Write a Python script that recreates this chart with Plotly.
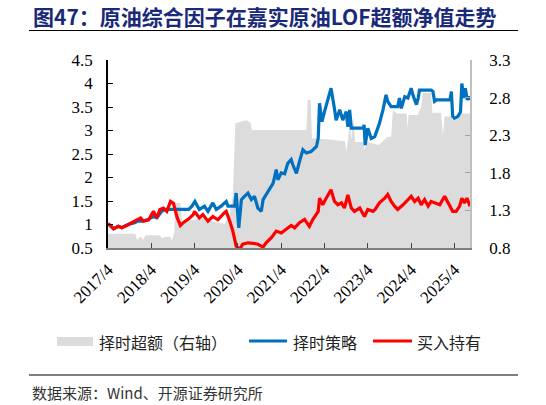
import plotly.graph_objects as go

# ---------------- data ----------------
hold_dates = [
    "2017-04-01", "2017-05-18", "2017-06-28", "2017-07-26", "2017-09-20", "2017-11-17",
    "2018-01-01", "2018-01-26", "2018-03-10", "2018-04-19", "2018-05-18", "2018-06-13",
    "2018-07-12", "2018-08-10", "2018-09-10", "2018-10-05", "2018-11-05", "2018-12-02",
    "2019-01-01", "2019-02-11", "2019-03-21", "2019-04-01", "2019-05-11", "2019-06-10",
    "2019-07-23", "2019-09-02", "2019-10-15", "2019-12-09", "2019-12-24", "2020-01-23",
    "2020-02-18", "2020-03-17", "2020-04-15", "2020-05-11", "2020-06-24", "2020-08-07",
    "2020-09-16", "2020-10-30", "2020-11-24", "2021-01-08", "2021-02-18", "2021-04-01",
    "2021-04-30", "2021-05-26", "2021-06-24", "2021-07-23", "2021-09-02", "2021-10-15",
    "2021-11-24", "2021-12-24", "2022-02-07", "2022-02-18", "2022-03-17", "2022-04-15",
    "2022-05-26", "2022-06-24", "2022-07-23", "2022-08-22", "2022-09-16", "2022-10-15",
    "2022-11-13", "2022-12-09", "2023-01-23", "2023-03-04", "2023-04-01", "2023-05-15",
    "2023-06-02", "2023-07-08", "2023-08-22", "2023-09-16", "2023-10-15", "2023-11-13",
    "2023-12-09", "2024-01-23", "2024-03-04", "2024-04-01", "2024-04-30", "2024-05-30",
    "2024-06-24", "2024-07-23", "2024-08-22", "2024-09-16", "2024-10-15", "2024-11-28",
    "2025-01-08", "2025-02-07", "2025-03-17", "2025-04-15", "2025-05-15", "2025-06-02",
    "2025-06-24", "2025-07-15", "2025-08-10",
]
hold_values = [
    1.02, 0.91, 0.96, 0.93, 1.00, 1.07,
    1.14, 1.07, 1.10, 1.28, 1.14, 1.32,
    1.35, 1.28, 1.49, 1.45, 1.15, 0.98,
    1.05, 1.12, 1.21, 1.28, 1.14, 1.21,
    1.07, 1.17, 1.10, 1.25, 1.28, 1.07,
    0.86, 0.54, 0.47, 0.58, 0.61, 0.60,
    0.58, 0.52, 0.61, 0.72, 0.86, 0.82,
    0.88, 0.93, 0.98, 0.93, 1.04, 1.11,
    0.96, 1.11, 1.28, 1.56, 1.42, 1.56,
    1.74, 1.49, 1.42, 1.46, 1.35, 1.63,
    1.35, 1.28, 1.35, 1.17, 1.32, 1.28,
    1.32, 1.46, 1.56, 1.64, 1.49, 1.39,
    1.32, 1.42, 1.53, 1.60, 1.49, 1.56,
    1.42, 1.53, 1.39, 1.49, 1.46, 1.42,
    1.60, 1.46, 1.28, 1.28, 1.39, 1.56,
    1.46, 1.56, 1.39,
]

strat_dates = [
    "2017-04-01", "2017-05-18", "2017-06-28", "2017-07-26", "2017-09-20", "2017-11-17",
    "2017-12-02", "2018-01-11", "2018-02-25", "2018-04-19", "2018-05-18", "2018-06-28",
    "2018-07-26", "2019-02-11", "2019-03-10", "2019-04-04", "2019-05-11", "2019-06-24",
    "2019-07-23", "2019-09-02", "2019-10-01", "2019-11-10", "2019-12-24", "2020-01-08",
    "2020-03-04", "2020-03-17", "2020-04-08", "2020-04-30", "2020-05-26", "2020-06-24",
    "2020-07-23", "2020-08-18", "2020-09-16", "2020-10-15", "2020-10-30", "2020-11-24",
    "2020-12-24", "2021-01-23", "2021-02-18", "2021-03-04", "2021-04-01", "2021-04-30",
    "2021-05-26", "2021-06-24", "2021-07-08", "2021-08-07", "2021-09-02", "2021-10-01",
    "2021-10-30", "2021-12-09", "2022-01-23", "2022-02-07", "2022-02-18", "2022-03-10",
    "2022-04-01", "2022-04-30", "2022-05-26", "2022-06-21", "2022-07-08", "2022-08-07",
    "2022-09-02", "2022-10-01", "2022-10-15", "2022-10-30", "2022-11-13", "2023-02-22",
    "2023-03-01", "2023-03-10", "2023-04-01", "2023-04-30", "2023-05-30", "2023-06-24",
    "2023-07-08", "2023-08-07", "2023-09-02", "2023-09-16", "2023-10-15", "2023-12-09",
    "2023-12-24", "2024-01-08", "2024-02-07", "2024-03-04", "2024-04-01", "2024-04-15",
    "2024-05-15", "2024-05-30", "2024-06-10", "2024-09-16", "2024-10-01", "2024-10-15",
    "2024-10-30", "2025-02-22", "2025-03-06", "2025-03-17", "2025-04-01", "2025-04-30",
    "2025-05-22", "2025-06-02", "2025-06-21", "2025-07-01", "2025-07-19", "2025-07-30",
    "2025-08-10",
]
strat_values = [
    1.02, 0.91, 0.96, 0.93, 1.00, 1.04,
    1.07, 1.07, 1.10, 1.17, 1.14, 1.28,
    1.32, 1.32, 1.39, 1.49, 1.32, 1.39,
    1.28, 1.46, 1.32, 1.39, 1.49, 1.39,
    1.39, 1.67, 0.93, 1.53, 1.60, 1.67,
    1.53, 1.60, 1.35, 1.28, 1.53, 1.63,
    1.74, 1.88, 2.17, 1.95, 2.10, 2.08,
    2.30, 2.38, 2.27, 2.09, 2.34, 2.59,
    2.52, 2.55, 2.66, 2.84, 3.58, 3.19,
    3.40, 3.68, 3.90, 3.51, 3.22, 3.44,
    3.22, 3.40, 3.08, 3.44, 3.05, 3.05,
    3.12, 2.69, 3.05, 2.83, 2.87, 3.05,
    3.15, 3.44, 3.76, 3.62, 3.51, 3.51,
    3.69, 3.47, 3.72, 3.69, 3.90, 3.76,
    3.55, 3.69, 3.86, 3.86, 3.83, 3.62,
    3.65, 3.65, 3.83, 3.30, 3.26, 3.30,
    3.40, 4.00, 3.69, 3.90, 3.65, 3.72,
    3.65,
]

excess_dates = [
    "2017-04-01", "2017-11-17", "2017-12-02", "2018-01-01", "2018-01-26", "2018-02-11",
    "2018-06-13", "2018-06-28", "2018-07-30", "2018-09-10", "2018-09-20", "2018-10-12",
    "2018-10-19", "2018-12-02", "2018-12-16", "2019-06-24", "2019-09-10", "2019-12-09",
    "2020-01-23", "2020-02-18", "2020-03-10", "2020-06-13", "2020-07-19", "2020-07-26",
    "2021-10-30", "2021-11-10", "2021-12-05", "2021-12-16", "2022-06-01", "2022-09-20",
    "2022-10-01", "2022-10-15", "2022-10-30", "2022-11-13", "2022-11-28", "2022-12-16",
    "2023-02-25", "2023-03-04", "2023-03-21", "2023-07-01", "2023-09-16", "2023-10-15",
    "2023-10-30", "2023-12-01", "2024-02-22", "2024-03-01", "2024-03-10", "2024-05-26",
    "2024-06-24", "2024-07-08", "2024-09-16", "2024-09-27", "2024-12-09", "2024-12-24",
    "2025-01-08", "2025-03-04", "2025-03-17", "2025-04-15", "2025-04-22", "2025-08-10",
]
excess_values = [
    0.99, 0.99, 0.91, 0.95, 0.91, 0.97,
    0.97, 0.93, 0.95, 0.95, 0.90, 1.00,
    1.40, 1.40, 1.15, 1.20, 1.15, 1.12,
    1.25, 1.50, 2.46, 2.50, 2.46, 2.37,
    2.37, 2.77, 2.77, 2.26, 2.24, 2.22,
    2.08, 2.22, 2.45, 2.25, 2.55, 2.21,
    2.21, 2.10, 2.21, 2.17, 2.28, 2.28,
    2.64, 2.59, 2.59, 2.40, 2.57, 2.57,
    2.68, 2.86, 2.86, 2.60, 2.60, 2.30,
    2.55, 2.55, 2.50, 2.50, 2.59, 2.59,
]

tick_dates = ["2017-04-01", "2018-04-01", "2019-04-01", "2020-04-01", "2021-04-01",
              "2022-04-01", "2023-04-01", "2024-04-01", "2025-04-01"]
tick_labels = ["2017/4", "2018/4", "2019/4", "2020/4", "2021/4",
               "2022/4", "2023/4", "2024/4", "2025/4"]

title_text = "图47：原油综合因子在嘉实原油LOF超额净值走势"
source_text = "数据来源：Wind、开源证券研究所"
names = ["择时超额（右轴）", "择时策略", "买入持有"]

# ---------------- figure ----------------
W, H = 546, 405
L, R, T, B = 108, 76, 60, 157
PW, PH = W - L - R, H - T - B


def px_x(px):
    return (px - L) / PW


def px_y(py):
    return (H - B - py) / PH


SERIF = "Liberation Serif, Times New Roman, serif"
CJK = "Noto Sans CJK SC, sans-serif"
GRAY = "#DCDCDC"
BLUE = "#0070C0"
RED = "#FF0000"

fig = go.Figure()
# grey area on the (base) right-hand axis so the lines on the overlaying axis sit above it
fig.add_trace(go.Scatter(x=excess_dates, y=excess_values, name=names[0], yaxis="y",
                         mode="lines", line=dict(width=0, color=GRAY),
                         fill="tozeroy", fillcolor=GRAY, showlegend=False))
fig.add_trace(go.Scatter(x=strat_dates, y=strat_values, name=names[1], yaxis="y2",
                         mode="lines", line=dict(color=BLUE, width=3.2), showlegend=False))
fig.add_trace(go.Scatter(x=hold_dates, y=hold_values, name=names[2], yaxis="y2",
                         mode="lines", line=dict(color=RED, width=3.2), showlegend=False))

fig.update_layout(
    width=W, height=H,
    margin=dict(l=L, r=R, t=T, b=B, pad=0),
    paper_bgcolor="white", plot_bgcolor="white",
    showlegend=False,
    xaxis=dict(type="date", range=["2017-04-01", "2025-08-10"],
               tickvals=tick_dates, ticktext=tick_labels, tickangle=-45,
               ticks="inside", ticklen=5, tickcolor="#404040",
               showline=True, linecolor="#7F7F7F", linewidth=2,
               showgrid=False, zeroline=False, ticklabelstandoff=3,
               tickfont=dict(family=SERIF, size=17, color="black")),
    yaxis=dict(range=[0.8, 3.3], tick0=0.8, dtick=0.5, tickformat=".1f",
               side="right",
               ticks="inside", ticklen=5, tickcolor="#A6A6A6",
               showline=True, linecolor="#BFBFBF", linewidth=1.5,
               showgrid=False, zeroline=False, ticklabelstandoff=14,
               tickfont=dict(family=SERIF, size=17, color="black")),
    yaxis2=dict(range=[0.5, 4.5], tick0=0.5, dtick=0.5,
                overlaying="y", side="left",
                ticks="inside", ticklen=5, tickcolor="black",
                showline=True, linecolor="black", linewidth=1.5,
                showgrid=False, zeroline=False, ticklabelstandoff=10,
                tickfont=dict(family=SERIF, size=17, color="black")),
)

# title
fig.add_annotation(text="<b>" + title_text + "</b>", xref="paper", yref="paper",
                   x=px_x(31), y=px_y(16), xanchor="left", yanchor="middle",
                   showarrow=False, font=dict(family=CJK, size=21, color="#1A2A78"))
# rules
fig.add_shape(type="line", xref="paper", yref="paper", x0=px_x(29), x1=px_x(518),
              y0=px_y(30.5), y1=px_y(30.5), line=dict(color="black", width=1.2))
fig.add_shape(type="line", xref="paper", yref="paper", x0=px_x(29), x1=px_x(518),
              y0=px_y(375), y1=px_y(375), line=dict(color="black", width=1.2))
# source
fig.add_annotation(text=source_text, xref="paper", yref="paper",
                   x=px_x(30), y=px_y(392), xanchor="left", yanchor="middle",
                   showarrow=False, font=dict(family=CJK, size=15, color="#333333"))

# legend (manual)
fig.add_shape(type="rect", xref="paper", yref="paper", x0=px_x(57), x1=px_x(93),
              y0=px_y(346), y1=px_y(337), fillcolor=GRAY, line=dict(width=0))
fig.add_shape(type="line", xref="paper", yref="paper", x0=px_x(249), x1=px_x(287),
              y0=px_y(341), y1=px_y(341), line=dict(color=BLUE, width=3))
fig.add_shape(type="line", xref="paper", yref="paper", x0=px_x(373), x1=px_x(412),
              y0=px_y(341), y1=px_y(341), line=dict(color=RED, width=3))
for name, px in zip(names, [97, 291, 415]):
    fig.add_annotation(text=name, xref="paper", yref="paper", x=px_x(px), y=px_y(341.5),
                       xanchor="left", yanchor="middle", showarrow=False,
                       font=dict(family=CJK, size=16, color="#222222"))

fig.write_html("out.html",
               config={"displayModeBar": False},
               post_script="document.body.style.margin='0';document.body.style.overflow='hidden';")
